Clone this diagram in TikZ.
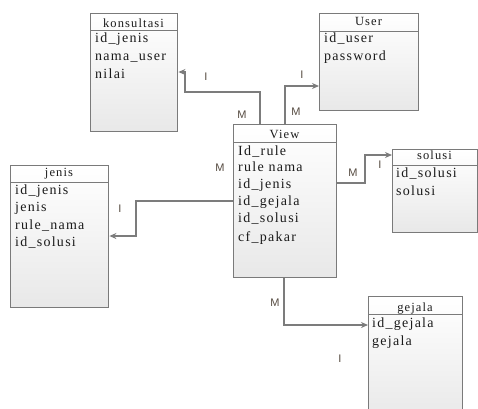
\documentclass[tikz,border=0pt]{standalone}
\usepackage{fontspec}
\usetikzlibrary{arrows.meta}
\newfontfamily\erserif[LetterSpace=9]{Liberation Serif}
\newfontfamily\erhead[LetterSpace=9]{Liberation Serif}
\newfontfamily\ersans{Liberation Sans}
\definecolor{boxline}{HTML}{7A7A7A}
\definecolor{boxfill}{HTML}{E8E8E8}
\definecolor{linegray}{HTML}{7C7C7C}
\definecolor{txt}{HTML}{1A1A1A}
\definecolor{cardcol}{HTML}{554A40}
\tikzset{
  tbl/.style={draw=boxline, line width=1.4pt, top color=white, bottom color=boxfill,
    inner sep=0pt, anchor=north west},
  hdrline/.style={draw=boxline, line width=1pt},
  hdr/.style={font=\erhead\fontsize{12.5}{14}\selectfont, text=txt, inner sep=0pt, anchor=base},
  attr/.style={font=\erserif\fontsize{14}{16}\selectfont, text=txt, inner sep=0pt, anchor=base west},
  rel/.style={draw=linegray, line width=1.1pt, -{Stealth[length=7pt,width=6pt]}},
  card/.style={font=\ersans\fontsize{11}{12}\selectfont, text=cardcol, inner sep=0pt}
}
\begin{document}
\begin{tikzpicture}[x=1pt,y=-1pt]
\useasboundingbox (0,0) rectangle (478,408);
% tables
\node[tbl, minimum width=87pt, minimum height=118pt] (k) at (90,13) {};
\node[tbl, minimum width=99pt, minimum height=97pt] (u) at (319,13) {};
\node[tbl, minimum width=103pt, minimum height=153pt] (v) at (233,124) {};
\node[tbl, minimum width=85pt, minimum height=83pt] (s) at (392,149) {};
\node[tbl, minimum width=98pt, minimum height=142pt] (j) at (10,165) {};
\node[tbl, minimum width=94pt, minimum height=125pt] (g) at (368,296) {};
% header lines
\draw[hdrline] ([yshift=-17pt]k.north west) -- ([yshift=-17pt]k.north east);
\draw[hdrline] ([yshift=-18pt]u.north west) -- ([yshift=-18pt]u.north east);
\draw[hdrline] ([yshift=-18pt]v.north west) -- ([yshift=-18pt]v.north east);
\draw[hdrline] ([yshift=-16pt]s.north west) -- ([yshift=-16pt]s.north east);
\draw[hdrline] ([yshift=-17pt]j.north west) -- ([yshift=-17pt]j.north east);
\draw[hdrline] ([yshift=-18pt]g.north west) -- ([yshift=-18pt]g.north east);
% headers
\node[hdr] (kh) at (133.5,27) {konsultasi};
\node[hdr] (uh) at (368.5,25) {User};
\node[hdr] (vh) at (284.5,138) {View};
\node[hdr] (sh) at (434.5,159) {solusi};
\node[hdr] (jh) at (59,176) {jenis};
\node[hdr] (gh) at (415,311) {gejala};
% attributes
\foreach \t [count=\i] in {id\_jenis, nama\_user, nilai}
  \node[attr] (k\i) at (95,{42+18*(\i-1)}) {\t};
\foreach \t [count=\i] in {id\_user, password}
  \node[attr] (u\i) at (324,{42+18*(\i-1)}) {\t};
\foreach \t [count=\i] in {Id\_rule, rule nama, id\_jenis, id\_gejala, id\_solusi}
  \node[attr] (v\i) at (238,{155+16.8*(\i-1)}) {\t};
\node[attr] (v6) at (238,241) {cf\_pakar};
\foreach \t [count=\i] in {id\_solusi, solusi}
  \node[attr] (s\i) at (396,{177+18*(\i-1)}) {\t};
\foreach \t [count=\i] in {id\_jenis, jenis, rule\_nama, id\_solusi}
  \node[attr] (j\i) at (15,{194+17.6*(\i-1)}) {\t};
\foreach \t [count=\i] in {id\_gejala, gejala}
  \node[attr] (g\i) at (372,{327+18*(\i-1)}) {\t};
% relations
\coordinate (ck) at (185,92);
\draw[rel] ([xshift=27pt]v.north west) |- (ck) |- (k.east |- 0,72);
\draw[rel] ([xshift=52pt]v.north west) |- (u.west |- 0,86);
\coordinate (cj) at (136,201);
\draw[rel] (v.west |- cj) -- (cj) |- (j.east |- 0,236);
\coordinate (cs) at (365,183);
\draw[rel] (v.east |- cs) -- (cs) |- (s.west |- 0,155);
\draw[rel] ([xshift=51pt]v.south west) |- (g.west |- 0,325);
% cardinalities
\node[card] (lk1) at (206,77) {I};
\node[card] (lk2) at (242,115) {M};
\node[card] (lu1) at (302,75) {I};
\node[card] (lu2) at (296,112) {M};
\node[card] (lj2) at (220,168) {M};
\node[card] (lj1) at (120,209) {I};
\node[card] (ls2) at (353,173) {M};
\node[card] (ls1) at (380,165) {I};
\node[card] (lg2) at (275,303) {M};
\node[card] (lg1) at (340,359) {I};
\end{tikzpicture}
\end{document}
